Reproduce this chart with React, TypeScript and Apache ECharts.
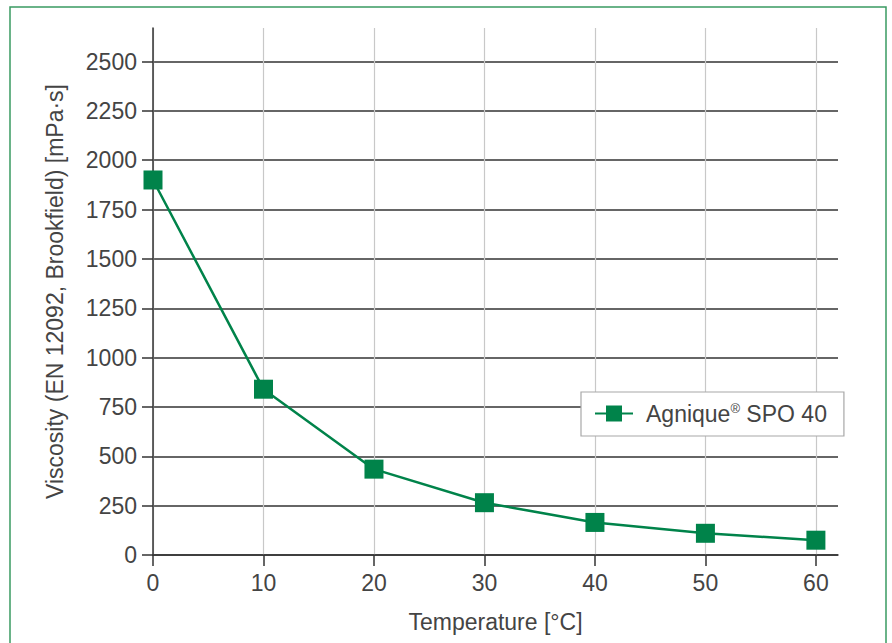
import React, { useEffect, useRef } from "react";
import * as echarts from "echarts";

const temperatures = [0, 10, 20, 30, 40, 50, 60];
const viscosity = [1900, 840, 435, 265, 165, 110, 75];
const xTicks = [0, 10, 20, 30, 40, 50, 60];
const yTicks = [0, 250, 500, 750, 1000, 1250, 1500, 1750, 2000, 2250, 2500];
const seriesName = "Agnique® SPO 40";
const xTitle = "Temperature [°C]";
const yTitle = "Viscosity (EN 12092, Brookfield) [mPa·s]";

const FONT = "'Liberation Sans', Arial, sans-serif";
const TXT = "#444444";
const GREEN = "#00834a";
const FS = 23;

export default function App() {
  const ref = useRef<HTMLDivElement>(null);
  useEffect(() => {
    if (!ref.current) return;
    const chart = echarts.init(ref.current, null, { renderer: "svg" });
    chart.setOption({
      animation: false,
      backgroundColor: "#ffffff",
      graphic: [
        {
          type: "rect",
          shape: { x: 10, y: 7, width: 876, height: 660 },
          style: { fill: "none", stroke: "#3a9a62", lineWidth: 1.5 },
          silent: true,
          z: 0,
        },
      ],
      grid: { left: 153, right: 54, top: 28, bottom: 88 },
      legend: {
        left: 581,
        top: 392,
        orient: "horizontal",
        backgroundColor: "#ffffff",
        borderColor: "#a8a8a8",
        borderWidth: 1.2,
        padding: [10, 17, 11, 13],
        itemWidth: 38,
        itemHeight: 20,
        itemGap: 14,
        data: [seriesName],
        formatter: () => "{a|Agnique}{sup|®}{b| SPO 40}",
        textStyle: {
          fontFamily: FONT,
          fontSize: FS,
          color: TXT,
          rich: {
            a: { fontFamily: FONT, fontSize: FS, color: TXT, padding: [0, 0, 0, 8] },
            b: { fontFamily: FONT, fontSize: FS, color: TXT },
            sup: { fontFamily: FONT, fontSize: 13, color: TXT, verticalAlign: "top", padding: [0, 0, 9, 0] },
          },
        },
      },
      xAxis: {
        type: "value",
        min: 0,
        max: 62,
        interval: 10,
        name: xTitle,
        nameLocation: "middle",
        nameGap: 55,
        nameTextStyle: { fontFamily: FONT, fontSize: FS, color: TXT },
        axisLine: { show: true, onZero: false, lineStyle: { color: "#333", width: 1.5 } },
        axisTick: { show: true, length: 11, customValues: xTicks, lineStyle: { color: "#333", width: 1.5 } },
        axisLabel: { customValues: xTicks, margin: 16, fontFamily: FONT, fontSize: FS, color: TXT, formatter: (v: number) => String(v) },
        splitLine: { show: true, lineStyle: { color: "#c8c8c8", width: 1.2 } },
      },
      yAxis: {
        type: "value",
        min: 0,
        max: 2670,
        interval: 250,
        name: yTitle,
        nameLocation: "middle",
        nameGap: 87,
        nameTextStyle: { fontFamily: FONT, fontSize: FS, color: TXT },
        axisLine: { show: true, lineStyle: { color: "#333", width: 1.5 } },
        axisTick: { show: true, length: 11, customValues: yTicks, lineStyle: { color: "#333", width: 1.5 } },
        axisLabel: { customValues: yTicks, margin: 16, fontFamily: FONT, fontSize: FS, color: TXT, formatter: (v: number) => String(v) },
        splitLine: { show: true, lineStyle: { color: "#333", width: 1.5 } },
      },
      series: [
        {
          name: seriesName,
          type: "line",
          data: temperatures.map((t, i) => [t, viscosity[i]]),
          symbol: "rect",
          symbolSize: 19,
          itemStyle: { color: GREEN },
          lineStyle: { color: GREEN, width: 2.5 },
          z: 5,
        },
      ],
    });
    return () => chart.dispose();
  }, []);
  return (
    <div
      ref={ref}
      style={{ position: "fixed", left: 0, top: 0, width: 892, height: 643 }}
    />
  );
}
